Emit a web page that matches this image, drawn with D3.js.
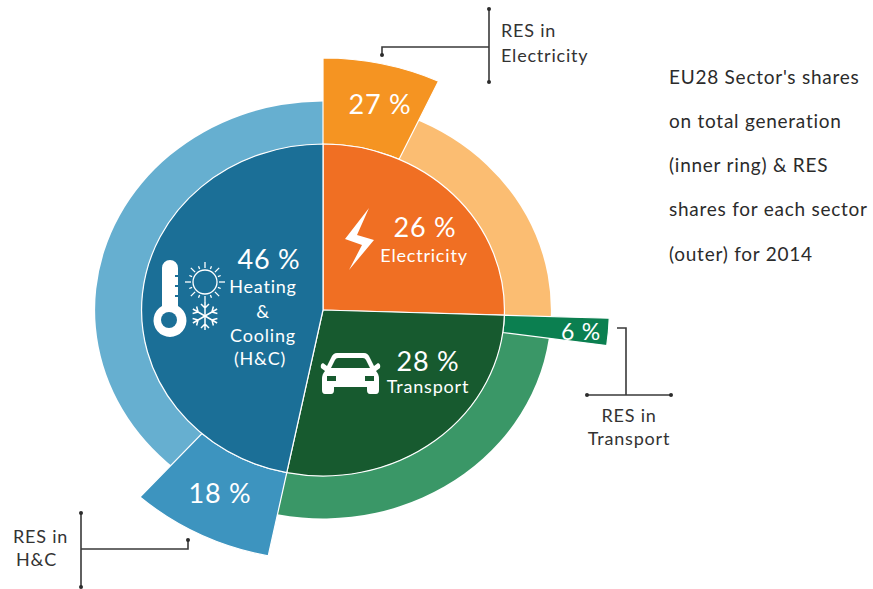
<!DOCTYPE html>
<html>
<head>
<meta charset="utf-8">
<script src="https://cdn.jsdelivr.net/npm/d3@7"></script>
<style>
    html, body { margin: 0; background: #fff; }
    text { font-family: Lato, "Open Sans", sans-serif; }
    .sector { stroke: #fff; stroke-width: 1.2; vector-effect: non-scaling-stroke; }
    .leader { stroke: #3a3a3a; stroke-width: 1.6; fill: none; }
</style>
</head>
<body>
<div id="chart"></div>
<script>
let sectors = ["Electricity", "Transport", "Heating & Cooling"];
// labelled shares, and the sweep each one actually gets in the drawing
let sectorShares = [26, 28, 46];
let sectorSweep = [25.5, 27.7, 46.8];
let resShares = [27, 6, 18];

let innerColors = ["#f06f23", "#175a2f", "#1b6f97"];
let ringColors = ["#fbbd72", "#3a9767", "#66afd0"];
let resColors = ["#f59422", "#0b7f50", "#3d94bf"];

let titleLines = ["EU28 Sector's shares", "on total generation", "(inner ring) & RES", "shares for each sector", "(outer) for 2014"];

let width = 873;
let height = 589;
let cx = 323;
let cy = 310;
let stretch = 1.093;    // the whole pie is a little wider than tall
let innerR = 166;
let ringR = 208.5;
let resR = [252, 262, 251];

let svg = d3.select("#chart").append("svg")
    .attr("width", width)
    .attr("height", height);

let pie = d3.pie().sort(null).value(d => d);
let sectorArcs = pie(sectorSweep);
let arc = d3.arc();

let piegroup = svg.append("g")
    .attr("transform", "translate(" + cx + "," + cy + ") scale(" + stretch + ",1)");

// outer ring
piegroup.selectAll(".ring")
    .data(sectorArcs)
    .enter().append("path")
    .attr("class", "ring")
    .attr("fill", (d, i) => ringColors[i])
    .attr("d", d => arc({innerRadius: innerR, outerRadius: ringR, startAngle: d.startAngle, endAngle: d.endAngle}));

// RES wedges, sweep is the RES share of the sector's own sweep
piegroup.selectAll(".res")
    .data(sectorArcs)
    .enter().append("path")
    .attr("class", "res sector")
    .attr("fill", (d, i) => resColors[i])
    .attr("d", (d, i) => arc({
        innerRadius: innerR,
        outerRadius: resR[i],
        startAngle: d.startAngle,
        endAngle: d.startAngle + (d.endAngle - d.startAngle) * resShares[i] / 100
    }));

// inner ring
piegroup.selectAll(".inner")
    .data(sectorArcs)
    .enter().append("path")
    .attr("class", "inner sector")
    .attr("fill", (d, i) => innerColors[i])
    .attr("d", d => arc({innerRadius: 0, outerRadius: innerR, startAngle: d.startAngle, endAngle: d.endAngle}));

function label(str, x, y, size, color, anchor) {
    svg.append("text")
        .attr("x", x)
        .attr("y", y)
        .attr("text-anchor", anchor || "middle")
        .attr("dominant-baseline", "central")
        .attr("font-size", size)
        .attr("letter-spacing", 0.8)
        .attr("fill", color || "#fff")
        .text(str);
}

label(sectorShares[0] + " %", 425, 226, 27);
label("Electricity", 424, 255, 18);
label(sectorShares[1] + " %", 428, 360, 27);
label("Transport", 428, 386, 18);
label(sectorShares[2] + " %", 269, 258, 27);
label("Heating", 263, 286, 18);
label("&", 263, 311, 18);
label("Cooling", 263, 335, 18);
label("(H&C)", 260, 358, 18);

label(resShares[0] + " %", 380, 103, 27);
label(resShares[1] + " %", 581, 331, 23);
label(resShares[2] + " %", 220, 492, 27);

// leader lines
function leader(pathStr, dots) {
    svg.append("path").attr("class", "leader").attr("d", pathStr);
    svg.selectAll(null)
        .data(dots)
        .enter().append("circle")
        .attr("cx", d => d[0])
        .attr("cy", d => d[1])
        .attr("r", 2)
        .attr("fill", "#2b2b2b");
}

leader("M489,9V82M489,47H382V55", [[489, 9], [489, 82], [382, 55]]);
leader("M81,513V587M81,549H188V540", [[81, 513], [81, 587], [188, 540]]);
leader("M617,328H626V395M587,395H671", [[587, 395], [671, 395]]);

label("RES in", 501, 30, 18, "#333", "start");
label("Electricity", 501, 55, 18, "#333", "start");
label("RES in", 13, 536, 18, "#333", "start");
label("H&C", 16, 559, 18, "#333", "start");
label("RES in", 629, 415, 18, "#333");
label("Transport", 629, 438, 18, "#333");

svg.selectAll(".title")
    .data(titleLines)
    .enter().append("text")
    .attr("class", "title")
    .attr("x", 669)
    .attr("y", (d, i) => 76 + i * 44.3)
    .attr("dominant-baseline", "central")
    .attr("font-size", 19)
    .attr("letter-spacing", 0.75)
    .attr("fill", "#2b2b2b")
    .text(d => d);

// icons
svg.append("path")
    .attr("fill", "#fff")
    .attr("d", "M369,208L345,239L362,245L349,270L374,240L357,235Z");

// thermometer
let thermo = svg.append("g");
thermo.append("path")
    .attr("fill", "#fff")
    .attr("d", "M162,268a8,8 0 0 1 16,0V306a16.5,16.5 0 1 1 -16,0Z");
thermo.append("circle").attr("cx", 169).attr("cy", 320).attr("r", 8).attr("fill", innerColors[2]);
thermo.selectAll("rect")
    .data([275, 285, 295])
    .enter().append("rect")
    .attr("x", 175).attr("y", d => d).attr("width", 3).attr("height", 2)
    .attr("fill", innerColors[2]);

// sun
let sun = svg.append("g").attr("transform", "translate(205,282)")
    .attr("stroke", "#fff").attr("stroke-width", 1.3).attr("fill", "none");
sun.append("circle").attr("r", 12);
sun.selectAll("line")
    .data(d3.range(16))
    .enter().append("line")
    .attr("x1", 14).attr("x2", d => d % 2 ? 17 : 20)
    .attr("transform", d => "rotate(" + d * 22.5 + ")");

// snowflake
let flake = svg.append("g").attr("transform", "translate(205,316)")
    .attr("stroke", "#fff").attr("stroke-width", 1.5).attr("fill", "none");
flake.selectAll("path")
    .data(d3.range(6))
    .enter().append("path")
    .attr("d", "M0,0H14M8,0L12,-4M8,0L12,4")
    .attr("transform", d => "rotate(" + (d * 60 + 90) + ")");

// car
svg.append("path")
    .attr("fill", "#fff")
    .attr("fill-rule", "evenodd")
    .attr("d", "M337,353H364Q368,353 370,358L374,366L378,363Q381,364 380,368L376,371Q379,374 379,379V390Q379,394 376,394H370Q367,394 367,390V387H334V390Q334,394 331,394H325Q322,394 322,390V379Q322,374 325,371L321,368Q320,364 323,363L327,366L331,358Q333,353 337,353Z"
        + "M338,358Q336,358 335,360L331,368H370L366,360Q365,358 363,358Z"
        + "M327,376V381H336V376Z M365,376V381H374V376Z");
</script>
</body>
</html>
